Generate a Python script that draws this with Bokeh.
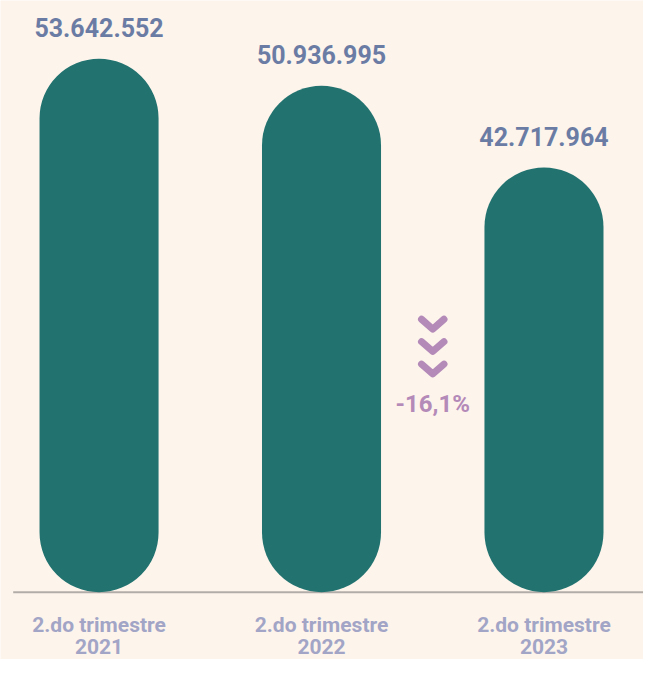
from bokeh.plotting import figure
from bokeh.models import Range1d
from bokeh.core.properties import value
from bokeh.embed import file_html
from bokeh.resources import INLINE

# ---- data ----
line1 = ["2.do trimestre", "2.do trimestre", "2.do trimestre"]
years = ["2021", "2022", "2023"]
values = [53642552, 50936995, 42717964]

# ---- styling ----
BG = "#FDF4EC"
TEAL = "#227370"
VAL_COL = "#6B7CA4"
LAB_COL = "#A2A5C6"
PCT_COL = "#B48AB8"
BASE_COL = "#B2ACA8"
FONT = "Roboto"

W, H = 643, 659
REF_W, REF_H = 659, 675
S = W / REF_W
SPACING = 228.0          # px between bar centres (reference)
FIRST = 101.0            # px of first centre
BASE_Y = 610.0           # px of zero line
PX_PER_UNIT = 10.183e-6  # px per value unit
TOP_SHIFT = 4            # lift whole chart a little so labels fit


def refx(px):
    return (px - FIRST) / SPACING


def refy(py):
    return (BASE_Y - py) / PX_PER_UNIT


xs = list(range(len(values)))

p = figure(width=W, height=H,
           x_range=Range1d(refx(0), refx(REF_W)),
           y_range=Range1d(refy(REF_H + TOP_SHIFT), refy(TOP_SHIFT)),
           output_backend="svg", toolbar_location=None,
           x_axis_location=None, y_axis_location=None,
           min_border=0, background_fill_color=BG, border_fill_color=BG,
           outline_line_color=None)
p.grid.visible = False

# baseline
p.segment(x0=[refx(13)], y0=[0], x1=[refx(REF_W)], y1=[0],
          line_color=BASE_COL, line_width=2)

# bars (pill shaped)
p.vbar(x=xs, top=values, bottom=0, width=122 / SPACING,
       fill_color=TEAL, line_color=None, border_radius=round(61 * S))

# value labels
labels = [f"{v:,}".replace(",", ".") for v in values]
p.text(x=xs, y=values, text=labels, text_align="center",
       text_baseline="alphabetic", y_offset=-round(32 * S),
       text_font=value(FONT), text_font_style="bold",
       text_font_size="25px", text_color=VAL_COL)

# category labels (two lines)
p.text(x=xs, y=[0] * len(xs), text=line1, text_align="center",
       text_baseline="alphabetic", y_offset=33,
       text_font=value(FONT), text_font_style="bold",
       text_font_size="21px", text_color=LAB_COL)
p.text(x=xs, y=[0] * len(xs), text=years, text_align="center",
       text_baseline="alphabetic", y_offset=54,
       text_font=value(FONT), text_font_style="bold",
       text_font_size="21px", text_color=LAB_COL)

# change annotation between last two bars
mid = (xs[1] + xs[2]) / 2
hw = 11.5 / SPACING
tops = [330.5, 353.5, 376.5]
p.multi_line(xs=[[mid - hw, mid, mid + hw] for _ in tops],
             ys=[[refy(t), refy(t + 10), refy(t)] for t in tops],
             line_color=PCT_COL, line_width=7,
             line_cap="round", line_join="round")

pct = (values[2] - values[1]) / values[1] * 100
pct_txt = f"{pct:.1f}".replace(".", ",") + "%"
p.text(x=[mid], y=[refy(417)], text=[pct_txt], text_align="center",
       text_baseline="alphabetic", text_font=value(FONT),
       text_font_style="bold", text_font_size="24px",
       text_color=PCT_COL)

open("out.html", "w").write(file_html(p, INLINE))
